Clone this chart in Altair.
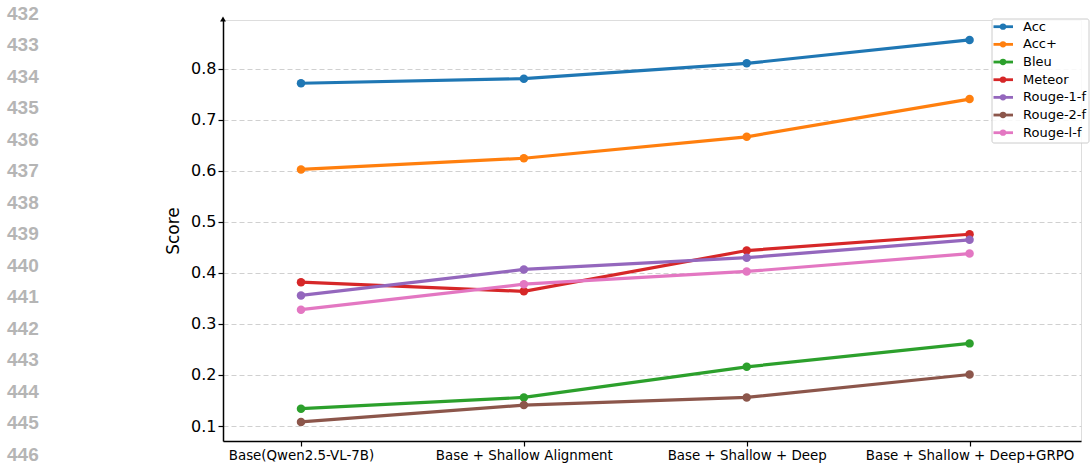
import altair as alt
import pandas as pd

# Training stages (x axis) and metric scores
stages = [
    "Base(Qwen2.5-VL-7B)",
    "Base + Shallow Alignment",
    "Base + Shallow + Deep",
    "Base + Shallow + Deep+GRPO",
]
metrics = ["Acc", "Acc+", "Bleu", "Meteor", "Rouge-1-f", "Rouge-2-f", "Rouge-l-f"]
colors = ["#1f77b4", "#ff7f0e", "#2ca02c", "#d62728", "#9467bd", "#8c564b", "#e377c2"]

acc = [0.772, 0.781, 0.811, 0.857]
acc_plus = [0.603, 0.625, 0.667, 0.741]
bleu = [0.134, 0.156, 0.216, 0.262]
meteor = [0.382, 0.364, 0.444, 0.476]
rouge1 = [0.356, 0.407, 0.430, 0.465]
rouge2 = [0.108, 0.141, 0.156, 0.201]
rougel = [0.328, 0.378, 0.403, 0.438]

y_ticks = [0.1, 0.2, 0.3, 0.4, 0.5, 0.6, 0.7, 0.8]
line_numbers = list(range(432, 447))

series = [acc, acc_plus, bleu, meteor, rouge1, rouge2, rougel]
rows = []
for name, vals in zip(metrics, series):
    for i, v in enumerate(vals):
        rows.append({"idx": i, "stage": stages[i], "metric": name, "score": v})
df = pd.DataFrame(rows)
legend_df = pd.DataFrame({"metric": metrics, "rank": list(range(len(metrics)))})

label_expr = "[" + ",".join("'" + s + "'" for s in stages) + "][datum.value]"

W, H = 858, 421
FONT = "DejaVu Sans"
color_scale = alt.Scale(domain=metrics, range=colors)

lines = alt.Chart(df).mark_line(
    strokeWidth=3.2,
    point=alt.OverlayMarkDef(filled=True, size=72),
).encode(
    x=alt.X(
        "idx:Q",
        scale=alt.Scale(domain=[-0.35, 3.5], nice=False, zero=False),
        axis=alt.Axis(
            values=[0, 1, 2, 3],
            labelExpr=label_expr,
            title=None,
            grid=False,
            domainColor="black",
            domainWidth=1.5,
            tickColor="black",
            tickSize=5,
            tickWidth=1.2,
            labelFont=FONT,
            labelFontSize=13.4,
            labelColor="black",
            labelPadding=2,
            labelLimit=400,
        ),
    ),
    y=alt.Y(
        "score:Q",
        scale=alt.Scale(domain=[0.0706, 0.896], nice=False, zero=False),
        axis=alt.Axis(
            values=y_ticks,
            format=".1f",
            title="Score",
            titleFont=FONT,
            titleFontSize=17,
            titleFontWeight="normal",
            titleColor="black",
            titleAngle=270,
            titleX=-50,
            titleY=H / 2,
            titleAlign="center",
            titleBaseline="middle",
            grid=True,
            gridColor="#d0d0d0",
            gridDash=[5, 3],
            gridWidth=1,
            domainColor="black",
            domainWidth=1.5,
            tickColor="black",
            tickSize=5,
            tickWidth=1.2,
            labelFont=FONT,
            labelFontSize=16,
            labelColor="black",
            labelPadding=2,
        ),
    ),
    color=alt.Color("metric:N", scale=color_scale, legend=None),
)

# arrow head on top of the y axis
arrow = alt.Chart(pd.DataFrame({"a": [0]})).mark_point(
    shape="triangle-up", filled=True, color="black", size=34, opacity=1
).encode(x=alt.value(0), y=alt.value(-1))

# legend in the upper right corner: frame, line swatches, dots and names
rank_y = alt.Y("rank:Q", scale=alt.Scale(domain=[0, 6], range=[6.7, 112.7]), axis=None)

legend_box = alt.Chart(pd.DataFrame({"a": [0]})).mark_rect(
    fill="white", fillOpacity=0.85, stroke="#cccccc", strokeWidth=1, cornerRadius=2
).encode(x=alt.value(769), x2=alt.value(866), y=alt.value(-1), y2=alt.value(123))

legend_lines = alt.Chart(legend_df).mark_rule(strokeWidth=2.8).encode(
    x=alt.value(770.5), x2=alt.value(790), y=rank_y,
    color=alt.Color("metric:N", scale=color_scale, legend=None),
)
legend_dots = alt.Chart(legend_df).mark_circle(size=40, opacity=1).encode(
    x=alt.value(780), y=rank_y,
    color=alt.Color("metric:N", scale=color_scale, legend=None),
)
legend_text = alt.Chart(legend_df).mark_text(
    align="left", baseline="middle", font=FONT, fontSize=13, color="black"
).encode(x=alt.value(800), y=rank_y, text="metric:N")

# manuscript line numbers down the left margin
nums = alt.Chart(pd.DataFrame({"num": line_numbers})).mark_text(
    align="left", baseline="middle", font="Liberation Sans", fontWeight="bold",
    fontSize=19, color="#b5b5b5",
).encode(
    x=alt.value(-216),
    y=alt.Y("num:Q", scale=alt.Scale(domain=[432, 446], range=[-6.3, 434.7]), axis=None),
    text=alt.Text("num:Q"),
)

legend_layer = alt.layer(legend_box, legend_lines, legend_dots, legend_text)

chart = alt.layer(lines, arrow, legend_layer, nums).resolve_scale(y="independent").properties(
    width=W,
    height=H,
    autosize=alt.AutoSizeParams(type="none"),
    padding={"left": 223, "top": 20, "right": 9, "bottom": 22},
).configure_view(stroke=None).configure(background="white")

chart.save("out.html", embed_options={"renderer": "svg", "actions": False})
